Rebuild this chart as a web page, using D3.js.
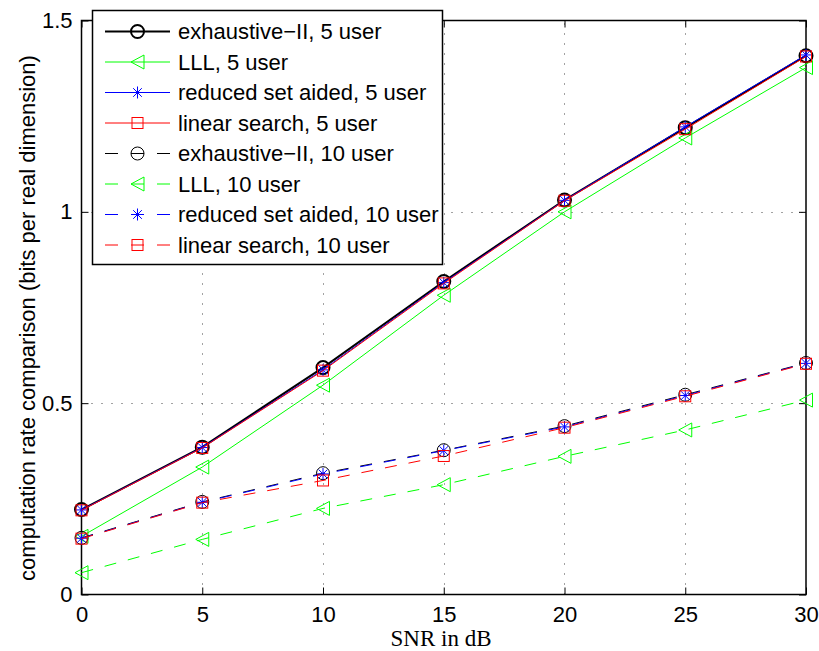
<!DOCTYPE html>
<html>
<head>
<meta charset="utf-8">
<script src="https://cdn.jsdelivr.net/npm/d3@7"></script>
<style>
  html, body { margin: 0; padding: 0; background: #fff; }
  svg { display: block; }
  text { font-family: "Liberation Sans", Arial, Helvetica, sans-serif; }
  text.serif { font-family: "Liberation Serif", "Times New Roman", serif; }
</style>
</head>
<body>
<svg id="chart" width="819" height="651"></svg>
<script>
// SNR points (dB)
const snr = [0, 5, 10, 15, 20, 25, 30];

// computation rate (bits per real dimension)
const exhaustive5 = [0.222, 0.385, 0.593, 0.818, 1.031, 1.220, 1.408];
const lll5        = [0.152, 0.333, 0.547, 0.782, 1.000, 1.193, 1.377];
const reduced5    = [0.221, 0.384, 0.587, 0.815, 1.030, 1.222, 1.410];
const linear5     = [0.220, 0.383, 0.585, 0.813, 1.029, 1.216, 1.406];
const exhaustive10 = [0.148, 0.242, 0.317, 0.377, 0.440, 0.522, 0.605];
const lll10        = [0.057, 0.144, 0.225, 0.287, 0.361, 0.430, 0.508];
const reduced10    = [0.147, 0.241, 0.315, 0.376, 0.438, 0.520, 0.604];
const linear10     = [0.146, 0.240, 0.298, 0.362, 0.436, 0.518, 0.603];

const xTicks = [0, 5, 10, 15, 20, 25, 30];
const yTicks = [0, 0.5, 1, 1.5];
const yTickLabels = ["0", "0.5", "1", "1.5"];

const seriesNames = [
  "exhaustive\u2212II, 5 user", "LLL, 5 user", "reduced set aided, 5 user", "linear search, 5 user",
  "exhaustive\u2212II, 10 user", "LLL, 10 user", "reduced set aided, 10 user", "linear search, 10 user"
];

const series = [
  { name: seriesNames[0], values: exhaustive5,  color: "#000000", marker: "circle",   dashed: false, width: 2 },
  { name: seriesNames[1], values: lll5,         color: "#00ff00", marker: "triangle", dashed: false, width: 1 },
  { name: seriesNames[2], values: reduced5,     color: "#0000ff", marker: "star",     dashed: false, width: 1 },
  { name: seriesNames[3], values: linear5,      color: "#ff0000", marker: "square",   dashed: false, width: 1 },
  { name: seriesNames[4], values: exhaustive10, color: "#000000", marker: "circle",   dashed: true,  width: 1 },
  { name: seriesNames[5], values: lll10,        color: "#00ff00", marker: "triangle", dashed: true,  width: 1 },
  { name: seriesNames[6], values: reduced10,    color: "#0000ff", marker: "star",     dashed: true,  width: 1 },
  { name: seriesNames[7], values: linear10,     color: "#ff0000", marker: "square",   dashed: true,  width: 1 }
];

const svg = d3.select("#chart");
const plotLeft = 81.5, plotRight = 806, plotTop = 20.5, plotBottom = 594.5;

const x = d3.scaleLinear().domain([0, 30]).range([plotLeft, plotRight]);
const y = d3.scaleLinear().domain([0, 1.5]).range([plotBottom, plotTop]);

// dotted grid
const grid = svg.append("g").attr("stroke", "#444").attr("stroke-width", 1).attr("stroke-dasharray", "1,9");
grid.selectAll("line.gx").data(xTicks.slice(1, -1)).join("line")
  .attr("x1", d => Math.round(x(d)) + 0.5).attr("x2", d => Math.round(x(d)) + 0.5)
  .attr("y1", plotBottom).attr("y2", plotTop);
grid.selectAll("line.gy").data(yTicks.slice(1, -1)).join("line")
  .attr("y1", d => Math.round(y(d)) + 0.5).attr("y2", d => Math.round(y(d)) + 0.5)
  .attr("x1", plotLeft).attr("x2", plotRight);

// axes box with inward ticks on all sides
const tickLen = 7;
const xAxisB = d3.axisBottom(x).tickValues(xTicks).tickSize(-tickLen).tickFormat(d3.format("d")).tickPadding(12);
const xAxisT = d3.axisTop(x).tickValues(xTicks).tickSize(-tickLen).tickFormat("");
const yAxisL = d3.axisLeft(y).tickValues(yTicks).tickSize(-tickLen).tickFormat((d, i) => yTickLabels[i]).tickPadding(9);
const yAxisR = d3.axisRight(y).tickValues(yTicks).tickSize(-tickLen).tickFormat("");

function styleAxis(g) {
  g.select(".domain").remove();
  g.selectAll(".tick line").attr("stroke", "#000").attr("stroke-width", 1);
  g.selectAll(".tick text").attr("fill", "#000").attr("font-size", 22);
}
svg.append("g").attr("transform", `translate(0,${plotBottom})`).call(xAxisB).call(styleAxis);
svg.append("g").attr("transform", `translate(0,${plotTop})`).call(xAxisT).call(styleAxis);
svg.append("g").attr("transform", `translate(${plotLeft},0)`).call(yAxisL).call(styleAxis);
svg.append("g").attr("transform", `translate(${plotRight},0)`).call(yAxisR).call(styleAxis);

svg.append("rect").attr("x", plotLeft).attr("y", plotTop)
  .attr("width", plotRight - plotLeft).attr("height", plotBottom - plotTop)
  .attr("fill", "none").attr("stroke", "#000").attr("stroke-width", 1.5);

// marker shapes
function drawMarker(g, type, cx, cy, color, sw) {
  if (type === "circle") {
    g.append("circle").attr("cx", cx).attr("cy", cy).attr("r", 6.5)
      .attr("fill", "none").attr("stroke", color).attr("stroke-width", sw);
  } else if (type === "triangle") {
    g.append("path").attr("d", `M${cx - 6.5},${cy} L${cx + 6.5},${cy - 7} L${cx + 6.5},${cy + 7} Z`)
      .attr("fill", "none").attr("stroke", color).attr("stroke-width", 1);
  } else if (type === "square") {
    g.append("rect").attr("x", cx - 5.5).attr("y", cy - 5.5).attr("width", 11).attr("height", 11)
      .attr("fill", "none").attr("stroke", color).attr("stroke-width", 1);
  } else if (type === "star") {
    const r = 6, d = r * 0.72;
    g.append("path").attr("d",
      `M${cx - r},${cy} L${cx + r},${cy} M${cx},${cy - r} L${cx},${cy + r} ` +
      `M${cx - d},${cy - d} L${cx + d},${cy + d} M${cx - d},${cy + d} L${cx + d},${cy - d}`)
      .attr("fill", "none").attr("stroke", color).attr("stroke-width", 1);
  }
}

const line = d3.line().x((d, i) => x(snr[i])).y(d => y(d));
const plot = svg.append("g");
series.forEach(s => {
  const g = plot.append("g");
  g.append("path").attr("d", line(s.values)).attr("fill", "none")
    .attr("stroke", s.color).attr("stroke-width", s.width)
    .attr("stroke-dasharray", s.dashed ? "12,12" : null);
  s.values.forEach((v, i) => drawMarker(g, s.marker, x(snr[i]), y(v), s.color, s.width));
});

// legend
const lg = svg.append("g");
lg.append("rect").attr("x", 92.5).attr("y", 10.5).attr("width", 350).attr("height", 254)
  .attr("fill", "#fff").attr("stroke", "#000").attr("stroke-width", 1.5);
series.forEach((s, i) => {
  const cy = 31.5 + i * 30.5;
  const g = lg.append("g");
  g.append("line").attr("x1", 105).attr("x2", 170).attr("y1", cy).attr("y2", cy)
    .attr("stroke", s.color).attr("stroke-width", s.width)
    .attr("stroke-dasharray", s.dashed ? "13,13" : null);
  drawMarker(g, s.marker, 137.5, cy, s.color, s.width);
  g.append("text").attr("x", 178).attr("y", cy).attr("dy", "0.36em")
    .attr("font-size", 22).attr("fill", "#000").text(s.name);
});

// axis titles
svg.append("text").attr("class", "serif").attr("x", 441).attr("y", 646).attr("text-anchor", "middle")
  .attr("font-size", 23).text("SNR in dB");
svg.append("text").attr("transform", "translate(35,318) rotate(-90)").attr("text-anchor", "middle")
  .attr("font-size", 22).text("computation rate comparison (bits per real dimension)");
</script>
</body>
</html>
